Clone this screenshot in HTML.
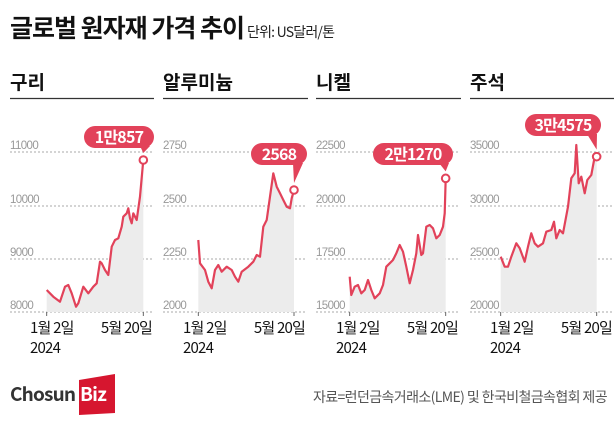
<!DOCTYPE html>
<html><head><meta charset="utf-8"><style>
body{margin:0;background:#fff;width:616px;height:424px;overflow:hidden}
svg{display:block;font-family:"Liberation Sans","Noto Sans CJK KR",sans-serif}
</style></head><body>
<svg id="s" width="616" height="424" viewBox="0 0 616 424">
<text x="10" y="37" font-size="25" font-weight="bold" fill="#111" font-family="'Noto Sans CJK KR',sans-serif" letter-spacing="-1">글로벌 원자재 가격 추이</text>
<text x="247" y="37" font-size="14" fill="#222" font-family="'Noto Sans CJK KR',sans-serif" letter-spacing="-0.8">단위: US달러/톤</text>
<g font-family="'Noto Sans CJK KR',sans-serif" font-size="19" font-weight="bold" fill="#111">
<text x="10" y="89">구리</text><text x="163" y="89">알루미늄</text><text x="316" y="89">니켈</text><text x="470" y="89">주석</text></g>
<g stroke="#333" stroke-width="1.3"><line x1="10" y1="98.5" x2="154" y2="98.5"/><line x1="163" y1="98.5" x2="308" y2="98.5"/><line x1="316" y1="98.5" x2="461" y2="98.5"/><line x1="470" y1="98.5" x2="614" y2="98.5"/></g>
<g id="charts"></g>
<g font-family="'Noto Sans CJK KR',sans-serif">
<text x="10" y="401" font-size="19" font-weight="bold" fill="#333" letter-spacing="-0.8">Chosun</text>
<polygon points="79,380 115,374 115,413 79,415" fill="#d6162f"/>
<text x="80" y="401" font-size="19" font-weight="bold" fill="#fff" letter-spacing="-0.8">Biz</text>
<text x="607" y="402" font-size="14" fill="#555" text-anchor="end" letter-spacing="-0.6">자료=런던금속거래소(LME) 및 한국비철금속협회 제공</text>
</g>
</svg>
<script>
var panels=[
{x:0,ox:0,labs:["11000","10000","9000","8000"],lbl:"1만857",bx:84,bw:70,by:126,
pts:[[140,480],[160,500],[180,515],[195,470],[205,465],[215,490],[228,530],[235,520],[250,470],[265,490],[280,470],[290,460],[300,395],[305,400],[315,420],[325,435],[335,350],[345,330],[355,325],[365,290],[370,260],[380,250],[385,235],[390,265],[395,280],[400,250],[410,270],[420,200],[430,90]]},
{x:160,ox:0,labs:["2750","2500","2250","2000"],lbl:"2568",bx:251,bw:56,by:143,
pts:[[595,330],[600,400],[615,420],[625,455],[635,475],[645,420],[655,405],[665,425],[680,410],[695,420],[705,440],[715,455],[725,425],[745,410],[760,395],[770,375],[780,380],[790,290],[800,270],[810,200],[820,130],[830,170],[840,190],[850,210],[860,230],[870,235],[875,205],[882,180]]},
{x:312,ox:308,labs:["22500","20000","17500","15000"],lbl:"2만1270",bx:373,bw:80,by:143,
pts:[[125,440],[130,495],[140,470],[150,465],[160,490],[170,480],[180,450],[190,480],[200,505],[215,490],[225,465],[235,410],[245,400],[255,390],[265,370],[275,345],[285,365],[295,410],[305,460],[315,420],[325,370],[330,315],[340,375],[345,370],[355,290],[365,285],[375,295],[385,325],[395,315],[405,290],[410,250],[413,145]]},
{x:463,ox:308,labs:["35000","30000","25000","20000"],lbl:"3만4575",bx:525,bw:76,by:114,
pts:[[578,380],[590,410],[600,410],[610,380],[625,340],[635,355],[650,395],[660,350],[670,310],[680,340],[690,350],[705,340],[715,305],[730,300],[738,275],[745,325],[755,300],[765,310],[780,230],[790,145],[800,130],[805,45],[812,160],[820,140],[830,190],[838,150],[850,135],[860,80],[866,80]]}];
var h="",gy=[152,206,259,312];
panels.forEach(function(p,i){
 var px=[10,163,316,470][i], g0=p.pts[0][0]/3+p.ox, g1=p.pts[p.pts.length-1][0]/3+p.ox;
 gy.forEach(function(y,j){h+='<line x1="'+px+'" y1="'+y+'" x2="'+(px+143)+'" y2="'+y+'" stroke="#aaa" stroke-dasharray="2,2" stroke-width="1"/>';
  h+='<text x="'+px+'" y="'+(y-3)+'" font-size="11.5" fill="#999" letter-spacing="-0.6">'+p.labs[j]+'</text>';});
 var s=p.pts.map(function(q){return (q[0]/3+p.ox).toFixed(1)+','+(q[1]/3+130).toFixed(1)}).join(' ');
 h+='<polygon points="'+g0.toFixed(1)+',312 '+s+' '+g1.toFixed(1)+',312" fill="#ececec"/>';
 h+='<polyline points="'+s+'" fill="none" stroke="#e2425a" stroke-width="2.2" stroke-linejoin="round"/>';
 h+='<line x1="'+g0+'" y1="312" x2="'+g0+'" y2="316" stroke="#666"/><line x1="'+g1+'" y1="312" x2="'+g1+'" y2="316" stroke="#666"/>';
 var lx=p.pts[p.pts.length-1][0]/3+p.ox, ly=p.pts[p.pts.length-1][1]/3+130;
 h+='<circle cx="'+lx+'" cy="'+ly+'" r="3.8" fill="#fff" stroke="#e2425a" stroke-width="2"/>';
 h+='<rect x="'+p.bx+'" y="'+p.by+'" width="'+p.bw+'" height="22" rx="11" fill="#e2425a"/>';
 h+='<polygon points="'+(p.bx+p.bw-14)+','+(p.by+20)+' '+(p.bx+p.bw-4)+','+(p.by+20)+' '+(lx)+','+(ly-7)+'" fill="#e2425a"/>';
 h+='<text x="'+(p.bx+p.bw/2)+'" y="'+(p.by+17)+'" font-size="16" font-weight="bold" fill="#fff" text-anchor="middle" letter-spacing="-0.8" font-family="\'Noto Sans CJK KR\',sans-serif">'+p.lbl+'</text>';
 h+='<g font-family="\'Noto Sans CJK KR\',sans-serif" font-size="15" fill="#111" letter-spacing="-0.8"><text x="'+(px+20)+'" y="333">1월 2일</text><text x="'+(px+142)+'" y="333" text-anchor="end">5월 20일</text><text x="'+(px+20)+'" y="353">2024</text></g>';
});
document.getElementById("charts").innerHTML=h;
</script>
</body></html>
